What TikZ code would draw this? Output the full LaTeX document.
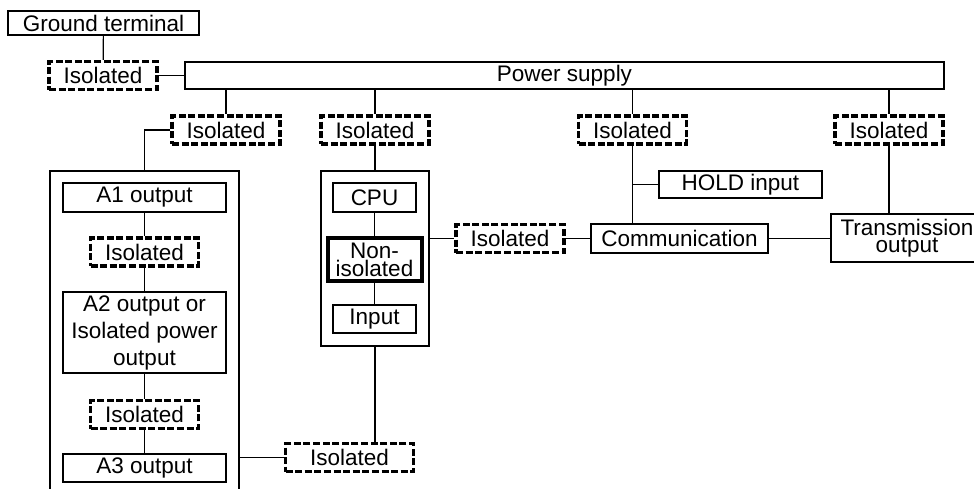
\documentclass[tikz,border=0pt]{standalone}
\usepackage{fontspec}
\setmainfont{Liberation Sans}
\usetikzlibrary{positioning}

\begin{document}
\begin{tikzpicture}[x=0.5pt, y=-0.5pt,
    box/.style={rectangle, draw, inner sep=0pt, line width=0.6pt, align=center, font=\fontsize{11.25}{13.5}\selectfont},
    iso/.style={box, line width=1.6pt, dash pattern=on 3.5pt off 1.3pt, minimum width=54pt, minimum height=14pt},
    wire/.style={line width=0.6pt}
]
\useasboundingbox (0,0) rectangle (974,488);
\clip (0,0) rectangle (974,488);

% top row
\node[box, minimum width=95.5pt, minimum height=12pt] (gnd) at (103.5,23) {Ground terminal};
\node[iso] (isoG) at (103,75.5) {Isolated};
\node[box, minimum width=379.5pt, minimum height=13.5pt] (pwr) at (564.5,75.5) {Power supply};

\node[iso] (isoA) at (226,130) {Isolated};
\node[iso] (isoB) at (375,130) {Isolated};
\node[iso] (isoD) at (632.5,130) {Isolated};
\node[iso] (isoE) at (889,130) {Isolated};

% output block
\node[box, minimum width=94.5pt, minimum height=165pt] (outblk) at (144.5,336) {};
\node[box, minimum width=81.5pt, minimum height=14.5pt] (a1) at (144.5,197.5) {A1 output};
\node[iso] (isoA1) at (144.5,252) {Isolated};
\node[box, minimum width=81.5pt, minimum height=40.5pt] (a2) at (144.5,332.5) {A2 output or\\Isolated power\\output};
\node[iso] (isoA2) at (144.5,414.5) {Isolated};
\node[box, minimum width=81.5pt, minimum height=14pt] (a3) at (144.5,468) {A3 output};
\node[iso, minimum width=64pt] (isoF) at (349.5,457.5) {Isolated};

% CPU block
\node[box, minimum width=54pt, minimum height=87.5pt] (cpublk) at (375,258.5) {};
\node[box, minimum width=41.5pt, minimum height=14.5pt] (cpu) at (374.5,197.5) {CPU};
\node[box, line width=2pt, minimum width=47pt, minimum height=21.5pt,
      font=\fontsize{11.25}{9}\selectfont] (noniso) at (374.5,259.5) {Non-\\isolated};
\node[box, minimum width=41.5pt, minimum height=14pt] (input) at (374.5,319) {Input};

% communication side
\node[iso] (isoC) at (510,238.5) {Isolated};
\node[box, minimum width=88.5pt, minimum height=14.5pt] (comm) at (679.5,238.5) {Communication};
\node[box, minimum width=81.5pt, minimum height=13.5pt] (hold) at (740.5,184.5) {HOLD input};
\node[box, minimum width=76pt, minimum height=24pt,
      font=\fontsize{11.25}{8.5}\selectfont] (trans) at (907,238) {Transmission\\output};

% wires
\draw[wire] (gnd) -- (isoG);
\draw[wire] (isoG) -- (pwr);
\draw[wire] (isoA.north |- pwr.south) -- (isoA.north);
\draw[wire] (isoB.north |- pwr.south) -- (isoB.north);
\draw[wire] (isoD.north |- pwr.south) -- (isoD.north);
\draw[wire] (isoE.north |- pwr.south) -- (isoE.north);
\draw[wire] (isoA.west) -| (outblk.north);
\draw[wire] (a1) -- (isoA1);
\draw[wire] (isoA1) -- (a2);
\draw[wire] (a2) -- (isoA2);
\draw[wire] (isoA2) -- (a3);
\draw[wire] (outblk.east |- isoF.west) -- (isoF.west);
\draw[wire] (isoF.north -| cpublk.south) -- (cpublk.south);
\draw[wire] (isoB) -- (cpublk.north);
\draw[wire] (cpu) -- (noniso);
\draw[wire] (noniso) -- (input);
\draw[wire] (cpublk.east |- isoC.west) -- (isoC.west);
\draw[wire] (isoC) -- (comm);
\draw[wire] (isoD.south) -- (isoD.south |- comm.north);
\draw[wire] (isoD.south |- hold.west) -- (hold.west);
\draw[wire] (comm.east) -- (comm.east -| trans.west);
\draw[wire] (isoE.south) -- (isoE.south |- trans.north);
\end{tikzpicture}
\end{document}
